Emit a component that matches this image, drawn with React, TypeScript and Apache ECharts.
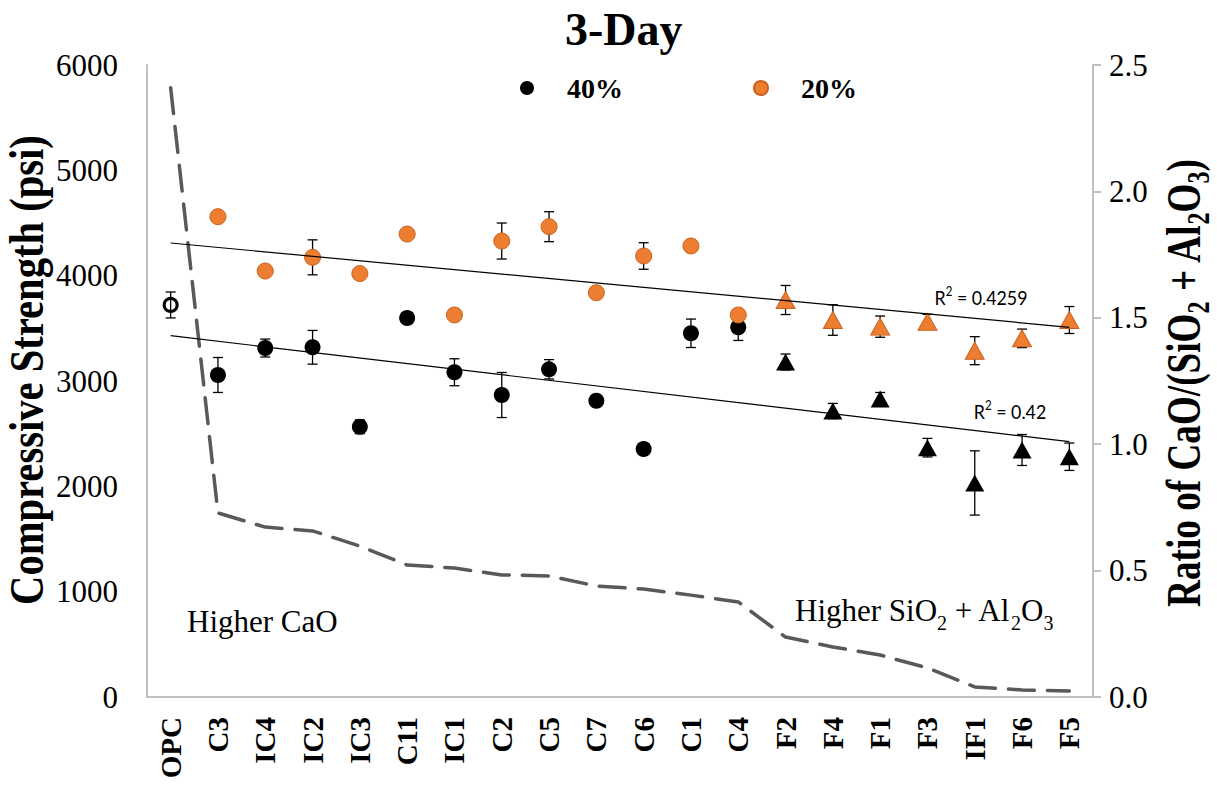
import React, { useEffect, useRef } from "react";
import * as echarts from "echarts";

const categories = ["OPC", "C3", "IC4", "IC2", "IC3", "C11", "IC1", "C2", "C5", "C7", "C6", "C1", "C4", "F2", "F4", "F1", "F3", "IF1", "F6", "F5"];
const opcStrength = 3722;
const opcError = 123;
const strength40 = [null, 3057, 3313, 3320, 2566, 3598, 3083, 2867, 3111, 2813, 2354, 3453, 3510, 3180, 2715, 2829, 2367, 2032, 2345, 2281];
const error40 = [null, 166, 85, 160, 66, 30, 128, 214, 92, 30, 30, 135, 125, 76, 72, 62, 88, 305, 147, 130];
const strength20 = [null, 4560, 4044, 4174, 4020, 4395, 3627, 4329, 4465, 3838, 4187, 4282, 3627, 3769, 3579, 3516, 3563, 3288, 3405, 3579];
const error20 = [null, 30, 30, 166, 30, 30, 30, 171, 142, 47, 126, 30, 40, 138, 145, 101, 70, 133, 88, 128];
const ratio = [2.41, 0.728, 0.672, 0.657, 0.597, 0.522, 0.51, 0.483, 0.479, 0.439, 0.427, 0.403, 0.376, 0.237, 0.198, 0.166, 0.115, 0.04, 0.028, 0.024];
const trend40Ends = [3430, 2424];
const trend20Ends = [4310, 3510];
const r2Values = ["0.4259", "0.42"];
const firstFlyAshIndex = 13;

const SERIF = "'Liberation Serif', 'Times New Roman', serif";
const SANS = "Lato, 'Open Sans', sans-serif";
const AXIS_GRAY = "#BFBFBF";

function measureWidth(text: string, style: any, fallback: number) {
  try {
    const t = new (echarts.graphic as any).Text({ style: { text, ...style } });
    const w = t.getBoundingRect().width;
    return w > 0 ? w : fallback;
  } catch (e) {
    return fallback;
  }
}

function errorSeries(name: string, values: (number | null)[], errors: (number | null)[]) {
  const data = values
    .map((v, i) => (v == null ? null : [i, v, errors[i] || 0]))
    .filter((d) => d != null);
  return {
    name,
    type: "custom",
    yAxisIndex: 0,
    z: 2,
    silent: true,
    encode: { x: 0, y: 1 },
    data,
    renderItem: (params: any, api: any) => {
      const i = api.value(0);
      const v = api.value(1);
      const e = api.value(2);
      const top = api.coord([i, v + e]);
      const bot = api.coord([i, v - e]);
      const x = top[0];
      const hw = 5;
      const st = { stroke: "#000", lineWidth: 1.3 };
      return {
        type: "group",
        children: [
          { type: "line", shape: { x1: x, y1: top[1], x2: x, y2: bot[1] }, style: st },
          { type: "line", shape: { x1: x - hw, y1: top[1], x2: x + hw, y2: top[1] }, style: st },
          { type: "line", shape: { x1: x - hw, y1: bot[1], x2: x + hw, y2: bot[1] }, style: st },
        ],
      };
    },
  };
}

function trendData(ends: number[]) {
  return categories.map((_, i) => (i === 0 ? ends[0] : i === categories.length - 1 ? ends[1] : null));
}

const symbolFn = (_v: any, p: any) => (p.dataIndex >= firstFlyAshIndex ? "triangle" : "circle");
const sizeFn = (_v: any, p: any) => (p.dataIndex >= firstFlyAshIndex ? [19, 17] : 16);

export default function App() {
  const ref = useRef<HTMLDivElement>(null);
  useEffect(() => {
    if (!ref.current) return;
    const chart = echarts.init(ref.current, null, { renderer: "svg" });

    const leftTitle = "Compressive Strength (psi)";
    const titleFont = { fontSize: 48, fontWeight: "bold", fontFamily: SERIF };
    const leftW = measureWidth(leftTitle, titleFont, 557);
    const rightTitle = "Ratio of CaO/(SiO{s|2} + Al{s|2}O{s|3})";
    const rightRich = { s: { fontSize: 31, fontWeight: "bold", fontFamily: SERIF, lineHeight: 32, verticalAlign: "bottom" } };
    const rightW = measureWidth(rightTitle, { ...titleFont, lineHeight: 60, rich: rightRich }, 578);

    const r2Rich = { sup: { fontSize: 13, fontFamily: SANS, lineHeight: 13, verticalAlign: "top" } };
    const r2Style = { fontSize: 20, fontFamily: SANS, lineHeight: 24, rich: r2Rich };
    const r2Text = r2Values.map((v) => `R{sup|2} = ${v}`);
    const r2W0 = measureWidth(r2Text[0], r2Style, 105);
    const r2Scale = Math.min(1, 93 / r2W0);

    const opcData = categories.map((_, i) => (i === 0 ? opcStrength : null));
    const opcErr = categories.map((_, i) => (i === 0 ? opcError : null));

    chart.setOption({
      animation: false,
      title: {
        text: "3-Day",
        left: 565,
        top: 6,
        padding: 0,
        textStyle: { fontFamily: SERIF, fontWeight: "bold", fontSize: 46, color: "#000" },
      },
      legend: {
        data: [
          { name: "40%", icon: "circle" },
          { name: "20%", icon: "circle" },
        ],
        left: 520,
        top: 74,
        padding: 0,
        itemWidth: 14,
        itemHeight: 14,
        itemGap: 130,
        textStyle: { fontFamily: SERIF, fontWeight: "bold", fontSize: 28, color: "#000", padding: [0, 0, 0, 28] },
      },
      grid: { left: 147, right: 124, top: 65, bottom: 90 },
      xAxis: {
        type: "category",
        data: categories,
        boundaryGap: true,
        axisLine: { show: true, lineStyle: { color: AXIS_GRAY, width: 2 } },
        axisTick: { show: false },
        axisLabel: { interval: 0, rotate: 90, margin: 20, fontFamily: SERIF, fontWeight: "bold", fontSize: 29, color: "#000" },
        splitLine: { show: false },
      },
      yAxis: [
        {
          type: "value",
          min: 0,
          max: 6000,
          interval: 1000,
          axisLine: { show: true, lineStyle: { color: AXIS_GRAY, width: 2 } },
          axisTick: { show: false },
          axisLabel: { margin: 29, fontFamily: SERIF, fontSize: 31, color: "#000", formatter: (v: number) => String(v) },
          splitLine: { show: false },
        },
        {
          type: "value",
          position: "right",
          min: 0,
          max: 2.5,
          interval: 0.5,
          axisLine: { show: true, lineStyle: { color: AXIS_GRAY, width: 2 } },
          axisTick: { show: true, length: 8, lineStyle: { color: AXIS_GRAY, width: 2 } },
          axisLabel: { margin: 16, fontFamily: SERIF, fontSize: 31, color: "#000", formatter: (v: number) => v.toFixed(1) },
          splitLine: { show: false },
        },
      ],
      series: [
        {
          name: "ratio",
          type: "line",
          yAxisIndex: 1,
          data: ratio,
          symbol: "none",
          z: 1,
          lineStyle: { color: "#595959", width: 3.5, type: [26, 13], cap: "round", join: "round" },
        },
        errorSeries("err40", strength40, error40),
        errorSeries("err20", strength20, error20),
        errorSeries("errOPC", opcData, opcErr),
        {
          name: "40%",
          type: "scatter",
          yAxisIndex: 0,
          data: strength40,
          symbol: symbolFn,
          symbolSize: sizeFn,
          z: 3,
          itemStyle: { color: "#000", opacity: 1 },
        },
        {
          name: "20%",
          type: "scatter",
          yAxisIndex: 0,
          data: strength20,
          symbol: symbolFn,
          symbolSize: sizeFn,
          z: 3,
          itemStyle: { color: "#ED7D31", borderColor: "#C9631F", borderWidth: 1, opacity: 1 },
        },
        {
          name: "OPC",
          type: "scatter",
          yAxisIndex: 0,
          data: opcData,
          symbol: "circle",
          symbolSize: 13,
          z: 3,
          itemStyle: { color: "rgba(255,255,255,0)", borderColor: "#000", borderWidth: 3, opacity: 1 },
        },
        {
          name: "trend40",
          type: "line",
          yAxisIndex: 0,
          data: trendData(trend40Ends),
          connectNulls: true,
          symbol: "none",
          z: 4,
          lineStyle: { color: "#000", width: 1.2 },
        },
        {
          name: "trend20",
          type: "line",
          yAxisIndex: 0,
          data: trendData(trend20Ends),
          connectNulls: true,
          symbol: "none",
          z: 4,
          lineStyle: { color: "#000", width: 1.2 },
        },
      ],
      graphic: [
        {
          type: "text",
          x: 27,
          y: 370,
          rotation: Math.PI / 2,
          scaleX: 470 / leftW,
          style: { text: leftTitle, ...titleFont, fill: "#000", align: "center", verticalAlign: "middle" },
        },
        {
          type: "text",
          x: 1184,
          y: 383,
          rotation: Math.PI / 2,
          scaleX: 448 / rightW,
          style: {
            text: rightTitle,
            ...titleFont,
            lineHeight: 60,
            fill: "#000",
            align: "center",
            verticalAlign: "middle",
            rich: rightRich,
          },
        },
        {
          type: "text",
          x: 187,
          y: 621,
          style: { text: "Higher CaO", fontSize: 31, fontFamily: SERIF, fill: "#000", align: "left", verticalAlign: "middle" },
        },
        {
          type: "text",
          x: 795,
          y: 610,
          style: {
            text: "Higher SiO{s|2} + Al{s|2}O{s|3}",
            fontSize: 31,
            fontFamily: SERIF,
            lineHeight: 45,
            fill: "#000",
            align: "left",
            verticalAlign: "middle",
            rich: { s: { fontSize: 20, fontFamily: SERIF, lineHeight: 22, verticalAlign: "bottom" } },
          },
        },
        {
          type: "text",
          x: 981,
          y: 297,
          scaleX: r2Scale,
          style: { text: r2Text[0], ...r2Style, fill: "#000", align: "center", verticalAlign: "middle" },
        },
        {
          type: "text",
          x: 1010,
          y: 411,
          scaleX: r2Scale,
          style: { text: r2Text[1], ...r2Style, fill: "#000", align: "center", verticalAlign: "middle" },
        },
      ],
    });
    return () => chart.dispose();
  }, []);
  return <div ref={ref} style={{ position: "absolute", left: 0, top: 0, width: 1217, height: 787 }} />;
}
